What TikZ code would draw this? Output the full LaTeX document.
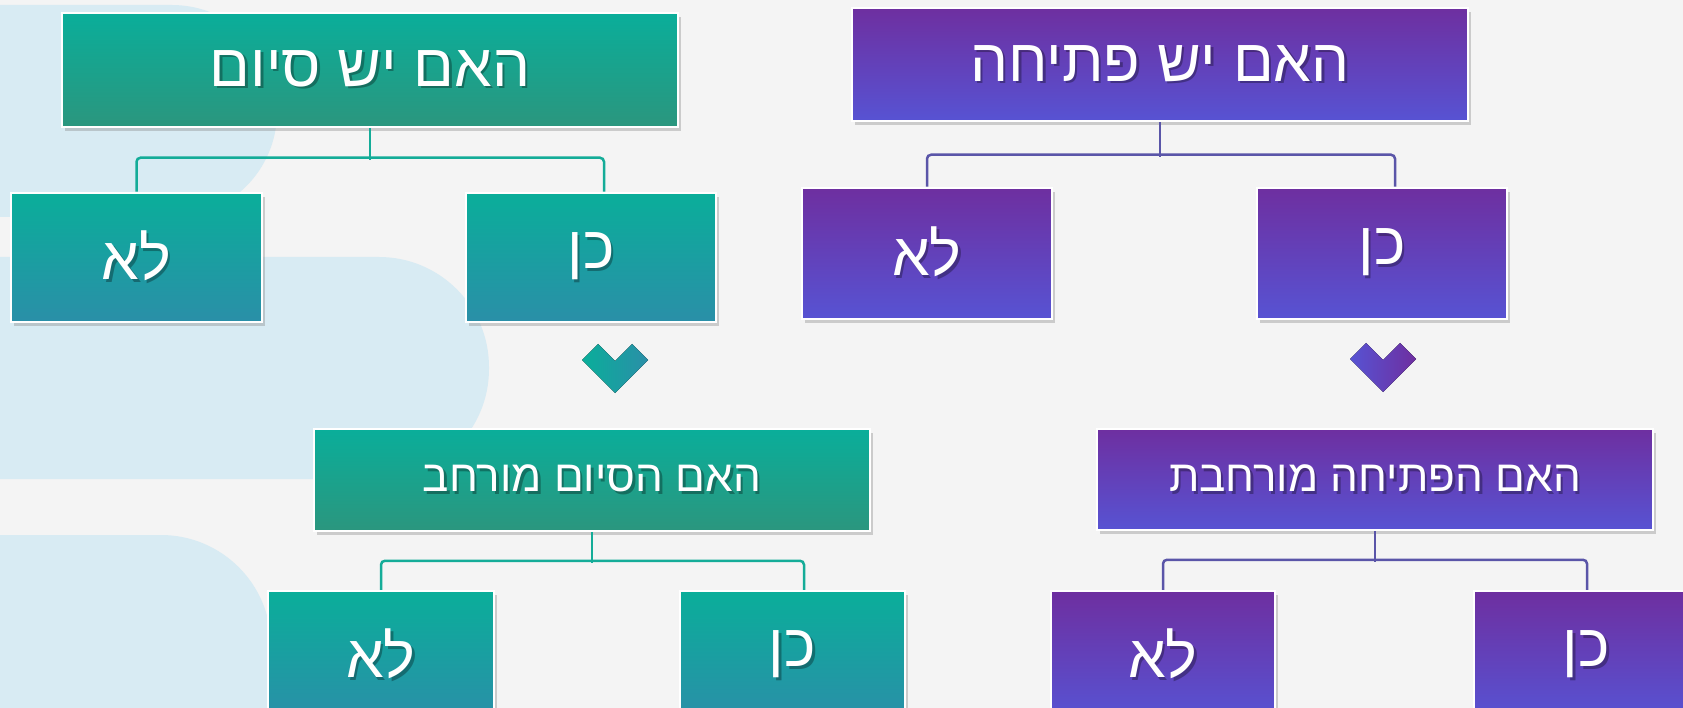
\documentclass[tikz,border=0pt]{standalone}
\usepackage{fontspec}
\setmainfont{Liberation Sans}
\newfontfamily\hebfont[Script=Hebrew]{Liberation Sans}
\TeXXeTstate=1
\usepackage{tikz}
\usetikzlibrary{shadows}
\definecolor{paper}{RGB}{244,244,244}
\definecolor{blob}{RGB}{216,235,243}
\definecolor{tealtop}{RGB}{10,174,154}
\definecolor{tealbot}{RGB}{43,150,126}
\definecolor{bluebot}{RGB}{42,143,168}
\definecolor{purptop}{RGB}{110,47,160}
\definecolor{purpbot}{RGB}{87,83,211}
\definecolor{tealline}{RGB}{20,172,152}
\definecolor{purpline}{RGB}{90,85,168}
\tikzstyle{box}=[draw=white,line width=2.5pt,text=white,inner sep=0pt,drop shadow={shadow xshift=3pt,shadow yshift=-4pt,opacity=0.35}]
\tikzstyle{gq}=[box,top color=tealtop,bottom color=tealbot]
\tikzstyle{ga}=[box,top color=tealtop,bottom color=bluebot]
\tikzstyle{pbox}=[box,top color=purptop,bottom color=purpbot]
\tikzstyle{big}=[font=\hebfont\fontsize{60}{60}\selectfont]
\tikzstyle{mid}=[font=\hebfont\fontsize{44}{44}\selectfont]
\tikzstyle{tline}=[tealline,line width=2.5pt,rounded corners=4pt]
\tikzstyle{pline}=[purpline,line width=2.5pt,rounded corners=4pt]
% hebrew text with a soft dark shadow
\newcommand{\heb}[1]{%
  \setbox0\hbox{\beginR #1\endR}%
  \rlap{\kern2.5pt\raisebox{-2.5pt}{\pgfsetfillopacity{0.3}\color{black}\copy0\pgfsetfillopacity{1}}}%
  \box0}
\newcommand{\downmark}[4]{
  \fill[left color=#3,right color=#4]
    (#1-33,#2-7) -- (#1-17,#2-23) -- (#1,#2-6) -- (#1+17,#2-23)
    -- (#1+33,#2-7) -- (#1,#2+26) -- cycle;
}

\begin{document}
\begin{tikzpicture}[x=1pt,y=-1pt]
\useasboundingbox (0,0) rectangle (1683,708);
\clip (0,0) rectangle (1683,708);

% paper and blobs
\fill[paper] (0,0) rectangle (1683,708);
\fill[blob,rounded corners=105pt] (-150,5) rectangle (277,217);
\fill[blob,rounded corners=110pt] (-150,257) rectangle (489,479);
\fill[blob,rounded corners=110pt] (-150,535) rectangle (271,820);

% green tree
\node[gq,big,minimum width=616pt,minimum height=114pt] (gq1) at (370,70) {\heb{האם יש סיום}};
\node[ga,big,minimum width=251pt,minimum height=129pt] (gno1) at (136.5,257.5) {\heb{לא}};
\node[ga,big,minimum width=250pt,minimum height=129pt] (gyes1) at (591,257.5) {\heb{כן}};
\node[gq,mid,minimum width=556pt,minimum height=102pt] (gq2) at (592,480) {\heb{האם הסיום מורחב}};
\node[ga,big,minimum width=226pt,minimum height=129pt] (gno2) at (381,655.5) {\heb{לא}};
\node[ga,big,minimum width=225pt,minimum height=129pt] (gyes2) at (792.5,655.5) {\heb{כן}};

\draw[tline] (gq1.south) -- ++(0,32);
\draw[tline] (gno1.north) -- ++(0,-34) -| ([xshift=13pt]gyes1.north);
\draw[tline] (gq2.south) -- ++(0,31);
\draw[tline] (gno2.north) -- ++(0,-29) -| ([xshift=11.5pt]gyes2.north);

\downmark{615}{367}{tealtop}{bluebot}

% purple tree
\node[pbox,big,minimum width=616pt,minimum height=113pt] (pq1) at (1160,64.5) {\heb{האם יש פתיחה}};
\node[pbox,big,minimum width=250pt,minimum height=131pt] (pno1) at (927,253.5) {\heb{לא}};
\node[pbox,big,minimum width=250pt,minimum height=131pt] (pyes1) at (1382,253.5) {\heb{כן}};
\node[pbox,mid,minimum width=556pt,minimum height=101pt] (pq2) at (1375,479.5) {\heb{האם הפתיחה מורחבת}};
\node[pbox,big,minimum width=224pt,minimum height=129pt] (pno2) at (1163,655.5) {\heb{לא}};
\node[pbox,big,minimum width=225pt,minimum height=129pt] (pyes2) at (1586.5,655.5) {\heb{כן}};

\draw[pline] (pq1.south) -- ++(0,35);
\draw[pline] (pno1.north) -- ++(0,-32) -| ([xshift=13pt]pyes1.north);
\draw[pline] (pq2.south) -- ++(0,31);
\draw[pline] (pno2.north) -- ++(0,-30) -| ([xshift=0.5pt]pyes2.north);

\downmark{1383}{366}{purpbot}{purptop}

\end{tikzpicture}
\end{document}
